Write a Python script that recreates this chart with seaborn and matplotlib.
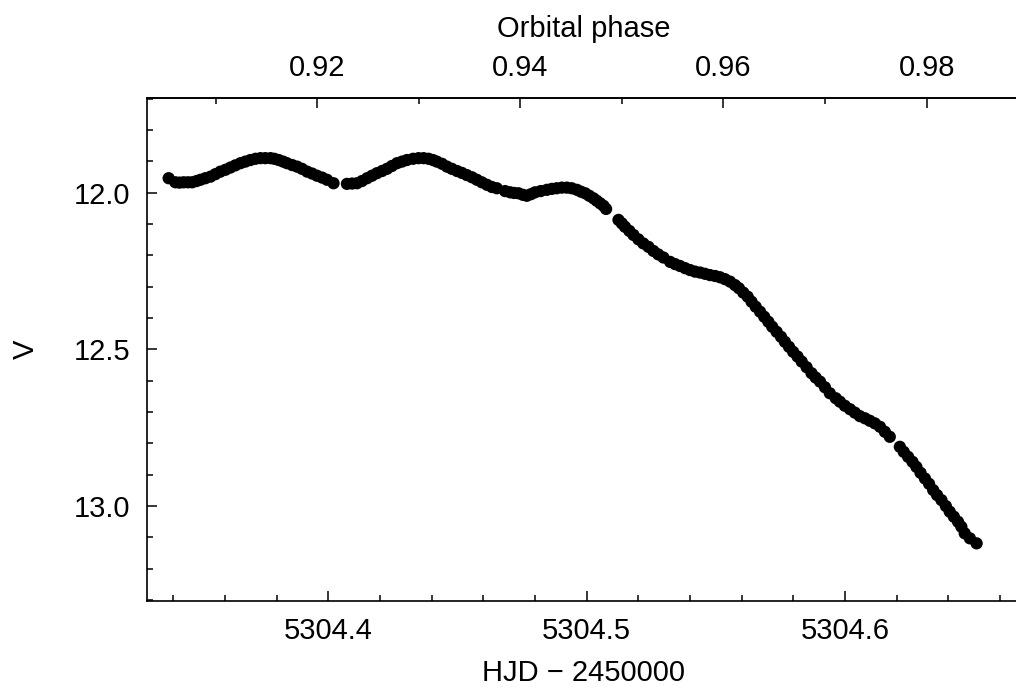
import numpy as np
import pandas as pd
import matplotlib
matplotlib.use("Agg")
import matplotlib.pyplot as plt
from matplotlib.ticker import MultipleLocator
import seaborn as sns

# ---- data ----
hjd = [
    5304.3382, 5304.3408, 5304.3424, 5304.3440, 5304.3457, 5304.3473, 5304.3490, 5304.3505,
    5304.3524, 5304.3544, 5304.3563, 5304.3582, 5304.3602, 5304.3621, 5304.3640, 5304.3660,
    5304.3679, 5304.3698, 5304.3718, 5304.3737, 5304.3756, 5304.3776, 5304.3791, 5304.3808,
    5304.3825, 5304.3840, 5304.3860, 5304.3879, 5304.3898, 5304.3918, 5304.3937, 5304.3956,
    5304.3976, 5304.3995, 5304.4020,
    5304.4072, 5304.4092, 5304.4111, 5304.4130, 5304.4150, 5304.4169, 5304.4188, 5304.4208,
    5304.4227, 5304.4246, 5304.4266, 5304.4285, 5304.4304, 5304.4328, 5304.4349, 5304.4369,
    5304.4388, 5304.4405, 5304.4420, 5304.4440, 5304.4459, 5304.4478, 5304.4498, 5304.4517,
    5304.4536, 5304.4556, 5304.4575, 5304.4594, 5304.4614, 5304.4633, 5304.4652, 5304.4684,
    5304.4704, 5304.4719, 5304.4736, 5304.4753, 5304.4768, 5304.4784, 5304.4800, 5304.4822,
    5304.4846, 5304.4865, 5304.4884, 5304.4904, 5304.4923, 5304.4942, 5304.4962, 5304.4978,
    5304.4994, 5304.5010, 5304.5026, 5304.5039, 5304.5052, 5304.5065, 5304.5075,
    5304.5123, 5304.5136, 5304.5148, 5304.5165, 5304.5181, 5304.5200, 5304.5219, 5304.5239,
    5304.5258, 5304.5277, 5304.5297, 5304.5323, 5304.5342, 5304.5361, 5304.5381, 5304.5400,
    5304.5419, 5304.5439, 5304.5458, 5304.5477, 5304.5497, 5304.5516, 5304.5535, 5304.5555,
    5304.5574, 5304.5589, 5304.5606, 5304.5623, 5304.5638, 5304.5654, 5304.5671, 5304.5687,
    5304.5703, 5304.5718, 5304.5735, 5304.5752, 5304.5767, 5304.5783, 5304.5799, 5304.5816,
    5304.5832, 5304.5851, 5304.5870, 5304.5886, 5304.5903, 5304.5922, 5304.5941, 5304.5964,
    5304.5980, 5304.5999, 5304.6019, 5304.6038, 5304.6057, 5304.6077, 5304.6096, 5304.6115,
    5304.6135, 5304.6154, 5304.6173,
    5304.6212, 5304.6227, 5304.6244, 5304.6261, 5304.6276, 5304.6292, 5304.6309, 5304.6325,
    5304.6341, 5304.6356, 5304.6373, 5304.6390, 5304.6405, 5304.6421, 5304.6437, 5304.6450,
    5304.6463, 5304.6483, 5304.6509,
]
vmag = [
    11.954, 11.967, 11.968, 11.967, 11.967, 11.967, 11.963, 11.959,
    11.954, 11.949, 11.941, 11.933, 11.927, 11.920, 11.913, 11.906,
    11.901, 11.896, 11.892, 11.890, 11.890, 11.890, 11.892, 11.896,
    11.901, 11.906, 11.912, 11.917, 11.924, 11.933, 11.939, 11.946,
    11.952, 11.959, 11.970,
    11.972, 11.971, 11.970, 11.963, 11.954, 11.946, 11.938, 11.931,
    11.924, 11.915, 11.906, 11.901, 11.896, 11.892, 11.890, 11.890,
    11.892, 11.896, 11.901, 11.908, 11.917, 11.924, 11.931, 11.937,
    11.944, 11.951, 11.959, 11.967, 11.975, 11.982, 11.986, 11.995,
    11.999, 12.001, 12.002, 12.007, 12.010, 12.005, 11.999, 11.995,
    11.991, 11.988, 11.986, 11.984, 11.984, 11.986, 11.991, 11.997,
    12.002, 12.010, 12.018, 12.026, 12.034, 12.042, 12.052,
    12.087, 12.098, 12.109, 12.122, 12.135, 12.149, 12.162, 12.173,
    12.186, 12.197, 12.207, 12.221, 12.228, 12.234, 12.241, 12.247,
    12.252, 12.255, 12.259, 12.263, 12.266, 12.270, 12.276, 12.284,
    12.295, 12.305, 12.319, 12.332, 12.348, 12.364, 12.380, 12.396,
    12.412, 12.428, 12.444, 12.460, 12.476, 12.492, 12.508, 12.523,
    12.539, 12.557, 12.576, 12.590, 12.603, 12.621, 12.640, 12.656,
    12.667, 12.680, 12.691, 12.702, 12.713, 12.720, 12.728, 12.736,
    12.747, 12.763, 12.779,
    12.811, 12.827, 12.843, 12.859, 12.875, 12.894, 12.912, 12.929,
    12.949, 12.965, 12.981, 13.000, 13.018, 13.034, 13.050, 13.066,
    13.087, 13.103, 13.119,
]

# ephemeris used for the top (orbital phase) axis
T0 = 5300.7786
PERIOD = 3.9316

x_ticks = [5304.4, 5304.5, 5304.6]
x_ticklabels = ["5304.4", "5304.5", "5304.6"]
y_ticks = [12.0, 12.5, 13.0]
y_ticklabels = ["12.0", "12.5", "13.0"]
phase_ticks = [0.92, 0.94, 0.96, 0.98]
phase_ticklabels = ["0.92", "0.94", "0.96", "0.98"]

df = pd.DataFrame({"HJD": hjd, "V": vmag})

sns.set_theme(style="ticks")
plt.rcParams["font.family"] = ["Liberation Sans", "DejaVu Sans"]
plt.rcParams["axes.linewidth"] = 1.2
plt.rcParams["text.color"] = "black"
plt.rcParams["axes.labelcolor"] = "black"
plt.rcParams["xtick.color"] = "black"
plt.rcParams["ytick.color"] = "black"

fig = plt.figure(figsize=(10.16, 6.91), dpi=100)
W, H = 1016.0, 691.0
left, right, top, bottom = 146.7, 1020.0, 98.3, 600.7
ax = fig.add_axes([left / W, 1 - bottom / H, (right - left) / W, (bottom - top) / H])

sns.scatterplot(data=df, x="HJD", y="V", ax=ax, color="black", s=78,
                linewidth=0, edgecolor="none", legend=False)

ax.set_xlim(5304.3297, 5304.6677)
ax.set_ylim(13.302, 11.699)

fs = 21
ax.set_xticks(x_ticks)
ax.set_xticklabels(x_ticklabels, fontsize=fs, color="black")
ax.set_yticks(y_ticks)
ax.set_yticklabels(y_ticklabels, fontsize=fs, color="black")
ax.xaxis.set_minor_locator(MultipleLocator(0.02))
ax.yaxis.set_minor_locator(MultipleLocator(0.1))
ax.tick_params(which="both", direction="in", top=False, right=False,
               color="black", labelcolor="black", width=1.1)
ax.tick_params(which="major", length=7, pad=12)
ax.tick_params(which="minor", length=4)
ax.set_xlabel("HJD \u2212 2450000", fontsize=fs, labelpad=10, color="black")
ax.set_ylabel("V", fontsize=fs, labelpad=24, color="black")

def to_phase(x):
    return (np.asarray(x) - T0) / PERIOD

def to_hjd(p):
    return np.asarray(p) * PERIOD + T0

sec = ax.secondary_xaxis("top", functions=(to_phase, to_hjd))
sec.set_xticks(phase_ticks)
sec.set_xticklabels(phase_ticklabels, fontsize=fs, color="black")
sec.xaxis.set_minor_locator(MultipleLocator(0.01))
sec.tick_params(which="both", direction="in", color="black", labelcolor="black", width=1.1)
sec.tick_params(which="major", length=7, pad=12)
sec.tick_params(which="minor", length=4)
sec.set_xlabel("Orbital phase", fontsize=fs, labelpad=12, color="black")

for sp in ax.spines.values():
    sp.set_color("black")
    sp.set_linewidth(1.2)
    sp.set_visible(True)
sec.spines["top"].set_linewidth(1.2)
sec.spines["top"].set_color("black")

fig.savefig("out.png", dpi=100, facecolor="white")
